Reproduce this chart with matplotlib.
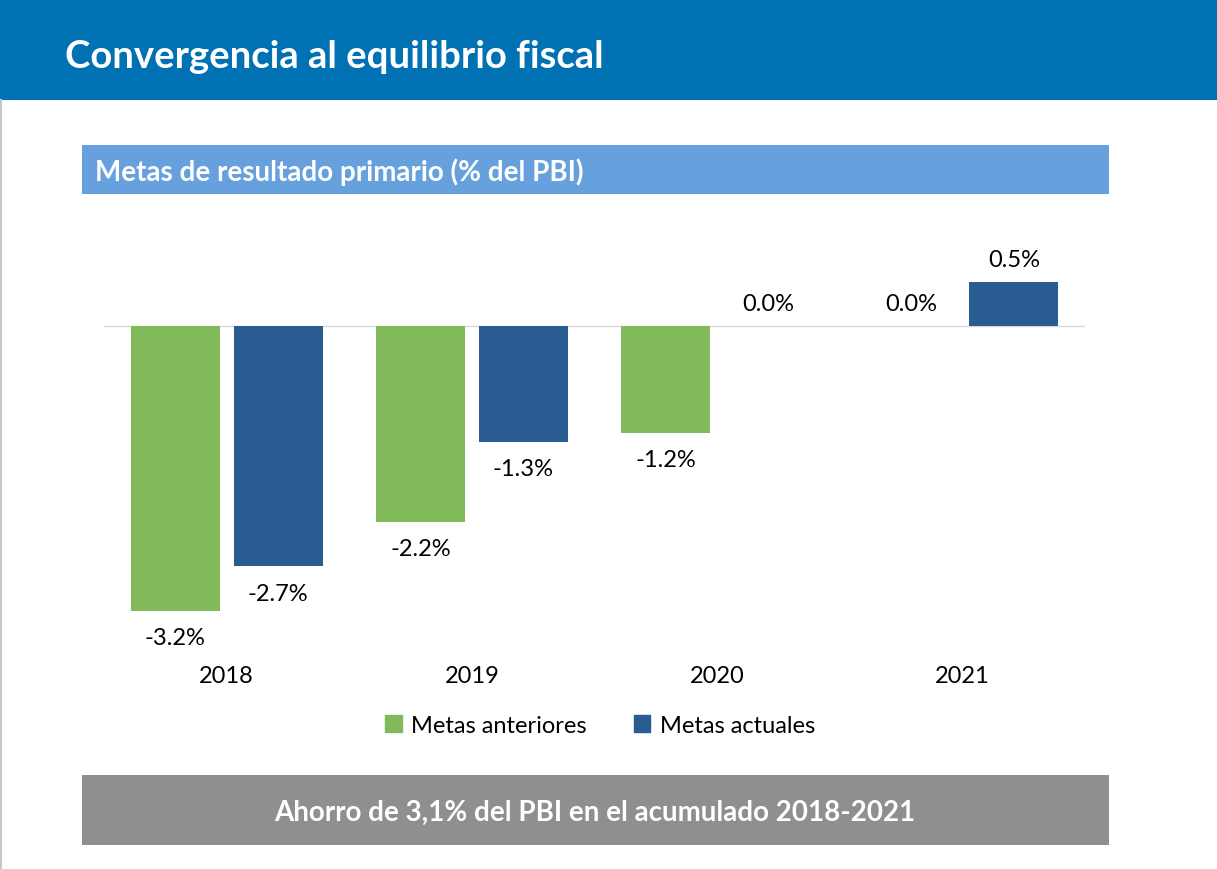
import matplotlib
matplotlib.use("Agg")
import matplotlib.pyplot as plt
from matplotlib.patches import Rectangle
from matplotlib.lines import Line2D
import numpy as np

plt.rcParams['font.family'] = ['Lato', 'DejaVu Sans']

years = ["2018", "2019", "2020", "2021"]
metas_anteriores = [-3.2, -2.2, -1.2, 0.0]
metas_actuales = [-2.7, -1.3, 0.0, 0.5]
series_names = ["Metas anteriores", "Metas actuales"]
title = "Convergencia al equilibrio fiscal"
subtitle = "Metas de resultado primario (% del PBI)"
footer = "Ahorro de 3,1% del PBI en el acumulado 2018-2021"

GREEN = "#82B95A"
BLUE = "#295C90"

W, H = 1217, 870
fig = plt.figure(figsize=(W / 100, H / 100), dpi=100)
fig.patch.set_facecolor("white")

def fx(px):
    return px / W

def fy(py):
    return 1 - py / H

# top banner
fig.patches.append(Rectangle((0, fy(101)), 1, 101 / H, transform=fig.transFigure,
                             facecolor="#0072B3", edgecolor="none", zorder=0))
fig.text(fx(65), fy(57), title, color="white", fontsize=27.5, fontweight="bold",
         va="center", ha="left")
# left gray edge
fig.add_artist(Line2D([fx(1), fx(1)], [0, fy(101)], transform=fig.transFigure,
                      color="#C8C8C8", linewidth=1.5))

# subtitle bar
fig.patches.append(Rectangle((fx(82), fy(195)), (1109 - 82) / W, (195 - 146) / H,
                             transform=fig.transFigure, facecolor="#66A1DD",
                             edgecolor="none", zorder=0))
fig.text(fx(95), fy(172), subtitle, color="white", fontsize=20, fontweight="bold",
         va="center", ha="left")

# footer bar
fig.patches.append(Rectangle((fx(82), fy(846)), (1109 - 82) / W, (846 - 776) / H,
                             transform=fig.transFigure, facecolor="#8F8F8F",
                             edgecolor="none", zorder=0))
fig.text(fx(595), fy(813), footer, color="white", fontsize=20, fontweight="bold",
         va="center", ha="center")

# chart axes: zero line at y=326 px, 89 px per unit
ax_left, ax_right = 104, 1085
ax_top, ax_bot = 241, 651
ppu = 89.0
zero_px = 327
ax = fig.add_axes([fx(ax_left), fy(ax_bot), (ax_right - ax_left) / W, (ax_bot - ax_top) / H])
ax.set_xlim(-0.5, len(years) - 0.5)
ax.set_ylim(-(ax_bot - zero_px) / ppu, (zero_px - ax_top) / ppu)
ax.patch.set_alpha(0)
for s in ax.spines.values():
    s.set_visible(False)

x = np.arange(len(years))
bw = 89 / 245.25
gap = 14 / 245.25
off = (bw + gap) / 2
ax.axhline(0, color="#D9D9D9", linewidth=1.0, zorder=1)
ax.bar(x - off, metas_anteriores, width=bw, color=GREEN, zorder=2, label=series_names[0])
ax.bar(x + off, metas_actuales, width=bw, color=BLUE, zorder=2, label=series_names[1])

for xs, vals in ((x - off, metas_anteriores), (x + off, metas_actuales)):
    for xi, v in zip(xs, vals):
        dy = -19.5 if v < 0 else 16
        ax.annotate(f"{v:.1f}%", (xi, v), xytext=(0, dy), textcoords="offset points",
                    ha="center", va="center", fontsize=17, color="black")

ax.set_xticks(x)
ax.set_xticklabels(years, fontsize=17)
ax.tick_params(axis="x", length=0, pad=11)
ax.set_yticks([])

handles = [Rectangle((0, 0), 1, 1, color=GREEN), Rectangle((0, 0), 1, 1, color=BLUE)]
fig.legend(handles, series_names, loc="center", bbox_to_anchor=(fx(600), fy(726.5)),
           ncol=2, frameon=False, fontsize=17, handlelength=0.7, handleheight=0.7,
           handletextpad=0.4, columnspacing=2.0)

fig.savefig("out.png", dpi=100)
